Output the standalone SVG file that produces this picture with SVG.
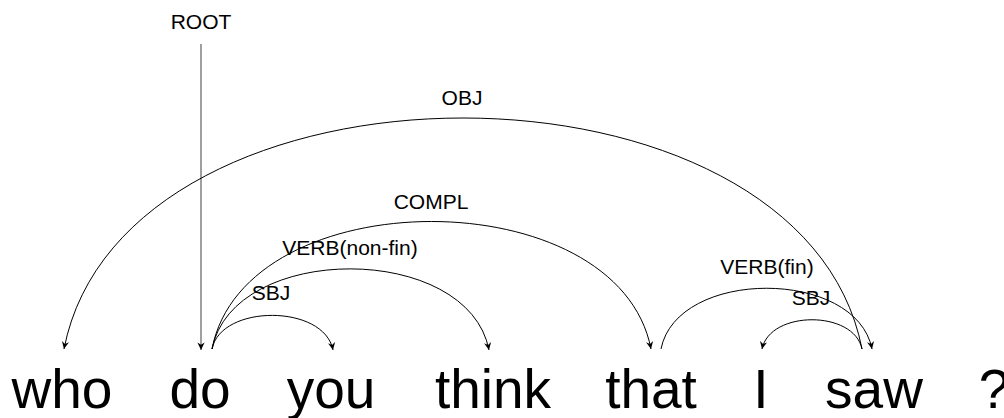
<svg xmlns="http://www.w3.org/2000/svg" width="1004" height="418" viewBox="0 0 1004 418">
<defs>
<style>
.word{font-family:"Liberation Sans",Arial,sans-serif;font-size:55px;fill:#000;text-anchor:middle}
.lbl{font-family:"Liberation Sans",Arial,sans-serif;font-size:21px;fill:#000;text-anchor:middle}
.arc{fill:none;stroke:#000;stroke-width:1;marker-end:url(#ah)}
.root{fill:none;stroke:#777;stroke-width:1.4;marker-end:url(#ah)}
</style>
<marker id="ah" markerUnits="userSpaceOnUse" viewBox="-8 -4 9 8" refX="0" refY="0" markerWidth="9" markerHeight="8" orient="auto">
<path d="M0,0 L-7.5,-3.6 L-5.2,0 L-7.5,3.6 Z" fill="#000"/>
</marker>
</defs>
<rect width="1004" height="418" fill="#fff"/>
<g id="connectors">
<g id="edge-root"><path class="root" d="M201,44 L201,350"/><text class="lbl" x="201" y="29">ROOT</text></g>
<g id="edge-obj"><path class="arc" d="M862,349 C802,41 124,41 64,349"/><text class="lbl" x="462" y="105">OBJ</text></g>
<g id="edge-compl"><path class="arc" d="M212,349 C245,179 618,179 651,349"/><text class="lbl" x="431" y="209">COMPL</text></g>
<g id="edge-verb-nonfin"><path class="arc" d="M212,349 C233,242 468,242 489,350"/><text class="lbl" x="350" y="255">VERB(non-fin)</text></g>
<g id="edge-sbj1"><path class="arc" d="M212,349 C221,304 324,304 333,350"/><text class="lbl" x="271" y="300">SBJ</text></g>
<g id="edge-verb-fin"><path class="arc" d="M661,349 C677,268 856,268 872,349"/><text class="lbl" x="767" y="274">VERB(fin)</text></g>
<g id="edge-sbj2"><path class="arc" d="M862,349 C854,310 770,310 762,349"/><text class="lbl" x="811" y="305">SBJ</text></g>
</g>
<g id="w-who"><text class="word" x="62" y="408">who</text></g>
<g id="w-do"><text class="word" x="200" y="408">do</text></g>
<g id="w-you"><text class="word" x="331" y="408">you</text></g>
<g id="w-think"><text class="word" x="493" y="408">think</text></g>
<g id="w-that"><text class="word" x="651" y="408">that</text></g>
<g id="w-I"><text class="word" x="761" y="408">I</text></g>
<g id="w-saw"><text class="word" x="874" y="408">saw</text></g>
<g id="w-q"><text class="word" x="994" y="408">?</text></g>
</svg>
